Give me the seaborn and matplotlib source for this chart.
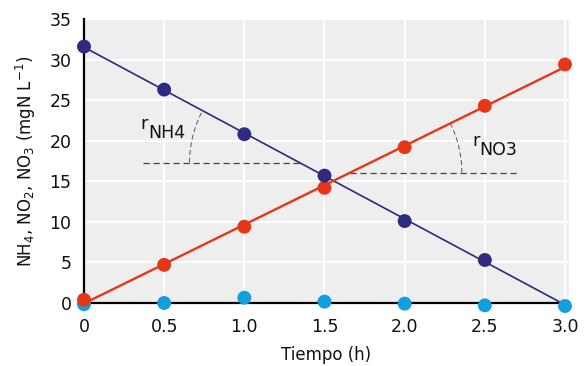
import numpy as np
import pandas as pd
import seaborn as sns
import matplotlib
matplotlib.use("Agg")
import matplotlib.pyplot as plt

# Measured concentrations over time (NH4 not sampled at the last time point)
tiempo = [0.0, 0.5, 1.0, 1.5, 2.0, 2.5, 3.0]
nh4 = [31.6, 26.3, 20.8, 15.7, 10.1, 5.3, np.nan]
no3 = [0.4, 4.7, 9.4, 14.2, 19.2, 24.3, 29.4]
no2 = [-0.15, 0.0, 0.65, 0.17, -0.08, -0.29, -0.37]

x_ticks = [0.0, 0.5, 1.0, 1.5, 2.0, 2.5, 3.0]
x_tick_labels = ["0", "0.5", "1.0", "1.5", "2.0", "2.5", "3.0"]
y_ticks = [0, 5, 10, 15, 20, 25, 30, 35]

# Reference levels of the dashed rate guides
nh4_guide_level = 17.3
nh4_guide_start = 0.37
no3_guide_level = 16.05
no3_guide_end = 2.70

c_nh4 = "#2d2a80"
c_no3 = "#e5361a"
c_no2 = "#119fdf"
c_text = "#111111"

sns.set_style("whitegrid", {
    "axes.facecolor": "#eeeeee",
    "grid.color": "white",
    "axes.edgecolor": "black",
})
plt.rcParams["font.family"] = ["DejaVu Sans"]

fig = plt.figure(figsize=(5.85, 3.66), dpi=100)
ax = fig.add_axes([84 / 585, 1 - 303 / 366, (569 - 84) / 585, (303 - 19) / 366])

df = pd.DataFrame({"t": tiempo, "NH4": nh4, "NO3": no3, "NO2": no2})

# Linear fits over the whole time span
t_arr = np.array(tiempo)
ok = ~np.isnan(np.array(nh4))
k_nh4, b_nh4 = np.polyfit(t_arr[ok], np.array(nh4)[ok], 1)
k_no3, b_no3 = np.polyfit(t_arr, np.array(no3), 1)
t_fit = [t_arr.min(), t_arr.max()]
fit = pd.DataFrame({
    "t": t_fit,
    "NH4": [b_nh4 + k_nh4 * t for t in t_fit],
    "NO3": [b_no3 + k_no3 * t for t in t_fit],
})
sns.lineplot(data=fit, x="t", y="NH4", color=c_nh4, lw=1.2, ax=ax, zorder=3)
sns.lineplot(data=fit, x="t", y="NO3", color=c_no3, lw=1.7, ax=ax, zorder=3)

sns.scatterplot(data=df, x="t", y="NO2", color=c_no2, s=100, edgecolor="none",
                ax=ax, zorder=4)
sns.scatterplot(data=df, x="t", y="NO3", color=c_no3, s=100, edgecolor="none",
                ax=ax, zorder=5)
sns.scatterplot(data=df, x="t", y="NH4", color=c_nh4, s=100, edgecolor="none",
                ax=ax, zorder=6)
for coll in ax.collections:
    coll.set_clip_on(False)

ax.set_xlim(0, 3.025)
ax.set_ylim(0, 35)
ax.set_xticks(x_ticks)
ax.set_xticklabels(x_tick_labels)
ax.set_yticks(y_ticks)
ax.grid(True, color="white", lw=1.3)
ax.set_axisbelow(True)
for side in ["top", "right"]:
    ax.spines[side].set_visible(False)
for side in ["left", "bottom"]:
    ax.spines[side].set_linewidth(1.6)
    ax.spines[side].set_zorder(2)
ax.tick_params(axis="both", which="both", direction="out", length=5, width=1.2,
               color="black", labelsize=12.5, labelcolor=c_text, pad=4)
ax.tick_params(axis="x", length=4, pad=7)

ax.set_xlabel("Tiempo (h)", fontsize=12, color=c_text, labelpad=7)
ax.set_ylabel("NH$_4$, NO$_2$, NO$_3$ (mgN L$^{-1}$)", fontsize=12,
              color=c_text, labelpad=8)

# Rate guides: horizontal dashed reference plus an arc up to each fit line
to_disp = ax.transData
to_data = ax.transData.inverted()


def draw_guide(k, b, level, x_other, radius_px, side):
    x_cross = (level - b) / k
    ax.plot([min(x_cross, x_other), max(x_cross, x_other)], [level, level],
            ls=(0, (5, 3)), color="#444444", lw=0.9, zorder=2)
    cx, cy = to_disp.transform((x_cross, level))
    p1 = to_disp.transform((x_cross + 1.0, level + k))
    ang = np.arctan2(p1[1] - cy, p1[0] - cx)
    if side == "left":
        theta = np.linspace(np.pi, ang + np.pi, 40)
    else:
        theta = np.linspace(0.0, ang, 40)
    px = cx + radius_px * np.cos(theta)
    py = cy + radius_px * np.sin(theta)
    pts = to_data.transform(np.column_stack([px, py]))
    ax.plot(pts[:, 0], pts[:, 1], ls=(0, (5, 3)), color="#555555", lw=0.7,
            zorder=2)


draw_guide(k_nh4, b_nh4, nh4_guide_level, nh4_guide_start, 110, "left")
draw_guide(k_no3, b_no3, no3_guide_level, no3_guide_end, 112, "right")


def rate_label(x, y, sub):
    ax.text(x, y, "r", fontsize=13, color=c_text, ha="left", va="baseline")
    ax.annotate(sub, xy=(x, y), xytext=(5.5, -6.5), textcoords="offset points",
                fontsize=12.5, color=c_text, ha="left", va="baseline")


rate_label(0.35, 21.4, "NH4")
rate_label(2.42, 19.3, "NO3")

fig.savefig("out.png", dpi=100)
